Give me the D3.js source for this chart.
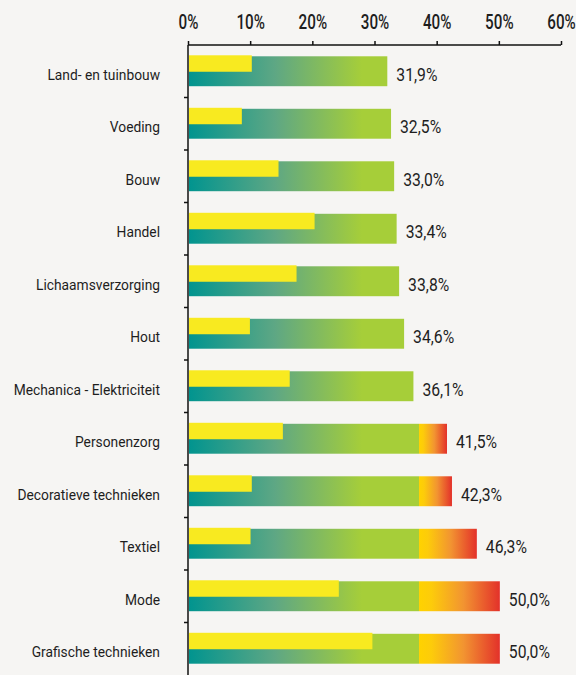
<!DOCTYPE html>
<html>
<head>
<meta charset="utf-8">
<script src="https://cdn.jsdelivr.net/npm/d3@7"></script>
<style>
  html, body { margin: 0; padding: 0; background: #f6f5f3; }
  svg { display: block; }
  text { font-family: Roboto, "Noto Sans", sans-serif; fill: #1e1e1e; }
</style>
</head>
<body>
<div id="chart"></div>
<script>
// categories top to bottom
var categories = ["Land- en tuinbouw", "Voeding", "Bouw", "Handel", "Lichaamsverzorging", "Hout",
  "Mechanica - Elektriciteit", "Personenzorg", "Decoratieve technieken", "Textiel", "Mode", "Grafische technieken"];
// total percentage (bar length)
var totals = [31.9, 32.5, 33.0, 33.4, 33.8, 34.6, 36.1, 41.5, 42.3, 46.3, 50.0, 50.0];
// yellow sub bar
var subValues = [10.1, 8.5, 14.4, 20.2, 17.3, 9.8, 16.2, 15.1, 10.1, 9.9, 24.1, 29.5];
// above this the bar turns orange/red
var threshold = 37;
var xTicks = [0, 10, 20, 30, 40, 50, 60];

var width = 576,
    height = 675;

var svg = d3.select("#chart")
  .append("svg")
    .attr("width", width)
    .attr("height", height);

var x = d3.scaleLinear()
    .domain([0, 60])
    .range([188, 561]);

var y = d3.scaleBand()
    .domain(categories)
    .range([45, 675])
    .paddingInner(0.43)
    .paddingOuter(0.215);

// no condensed font available, so squeeze the text horizontally
function squeeze(px, py, sx) {
  return "translate(" + px + "," + py + ") scale(" + sx + ",1)";
}

var defs = svg.append("defs");

// teal -> green, fixed along the x axis
var gGreen = defs.append("linearGradient")
    .attr("id", "grad-green")
    .attr("gradientUnits", "userSpaceOnUse")
    .attr("x1", x(0)).attr("x2", x(28))
    .attr("y1", 0).attr("y2", 0);
gGreen.append("stop").attr("offset", "0%").attr("stop-color", "#00948f");
gGreen.append("stop").attr("offset", "50%").attr("stop-color", "#5ea784");
gGreen.append("stop").attr("offset", "100%").attr("stop-color", "#a6ce39");

// yellow -> red, per bar
var gRed = defs.append("linearGradient")
    .attr("id", "grad-red")
    .attr("x1", 0).attr("x2", 1)
    .attr("y1", 0).attr("y2", 0);
gRed.append("stop").attr("offset", "0%").attr("stop-color", "#ffd200");
gRed.append("stop").attr("offset", "15%").attr("stop-color", "#fdcc0a");
gRed.append("stop").attr("offset", "55%").attr("stop-color", "#f29431");
gRed.append("stop").attr("offset", "100%").attr("stop-color", "#e3312a");

var data = categories.map(function(c, i) {
  return { cat: c, total: totals[i], sub: subValues[i] };
});

var rows = svg.selectAll(".row")
  .data(data)
  .enter()
  .append("g")
    .attr("class", "row");

rows.append("rect")
    .attr("x", x(0) + 1)
    .attr("y", function(d) { return y(d.cat); })
    .attr("width", function(d) { return x(Math.min(d.total, threshold)) - x(0); })
    .attr("height", y.bandwidth())
    .attr("fill", "url(#grad-green)");

rows.filter(function(d) { return d.total > threshold; })
  .append("rect")
    .attr("x", x(threshold) + 1)
    .attr("y", function(d) { return y(d.cat); })
    .attr("width", function(d) { return x(d.total) - x(threshold); })
    .attr("height", y.bandwidth())
    .attr("fill", "url(#grad-red)");

rows.append("rect")
    .attr("x", x(0) + 1)
    .attr("y", function(d) { return y(d.cat) - 1; })
    .attr("width", function(d) { return x(d.sub) - x(0); })
    .attr("height", y.bandwidth() * 0.55)
    .attr("fill", "#f8ea20");

// value labels
rows.append("text")
    .attr("transform", function(d) {
      return squeeze(x(d.total) + 10, y(d.cat) + y.bandwidth() / 2 + 3, 0.85);
    })
    .attr("dy", "0.35em")
    .style("font-size", "18.5px")
    .text(function(d) { return d.total.toFixed(1).replace(".", ",") + "%"; });

// category labels
rows.append("text")
    .attr("transform", function(d) {
      return squeeze(160, y(d.cat) + y.bandwidth() / 2 + 3, 0.92);
    })
    .attr("dy", "0.35em")
    .attr("text-anchor", "end")
    .style("font-size", "15px")
    .text(function(d) { return d.cat; });

// top axis
var xAxis = d3.axisTop(x)
    .tickValues(xTicks)
    .tickSize(4)
    .tickFormat(function(d) { return d + "%"; });

var gx = svg.append("g")
    .attr("transform", "translate(0,45)")
    .call(xAxis);
gx.select(".domain").attr("stroke", "#111").attr("stroke-width", 1.5).attr("d", "M" + x(0) + ",0H" + x(60));
gx.selectAll(".tick line").attr("stroke", "#111").attr("stroke-width", 1.5);
gx.selectAll(".tick text")
    .attr("y", null)
    .attr("dy", null)
    .attr("transform", squeeze(0, -16, 0.78))
    .style("font-family", "Roboto, sans-serif")
    .style("font-size", "19.5px")
    .style("font-weight", 500)
    .attr("fill", "#1e1e1e");

// left axis
var gy = svg.append("g").attr("class", "y-axis");
gy.append("line")
    .attr("x1", x(0)).attr("x2", x(0))
    .attr("y1", 45).attr("y2", height)
    .attr("stroke", "#111")
    .attr("stroke-width", 1.5);
gy.selectAll(".ytick")
  .data(categories.slice(1))
  .enter()
  .append("line")
    .attr("class", "ytick")
    .attr("x1", x(0) - 4).attr("x2", x(0))
    .attr("y1", function(d) { return y(d) - y.step() * y.paddingInner() / 2; })
    .attr("y2", function(d) { return y(d) - y.step() * y.paddingInner() / 2; })
    .attr("stroke", "#111")
    .attr("stroke-width", 1.5);
</script>
</body>
</html>
